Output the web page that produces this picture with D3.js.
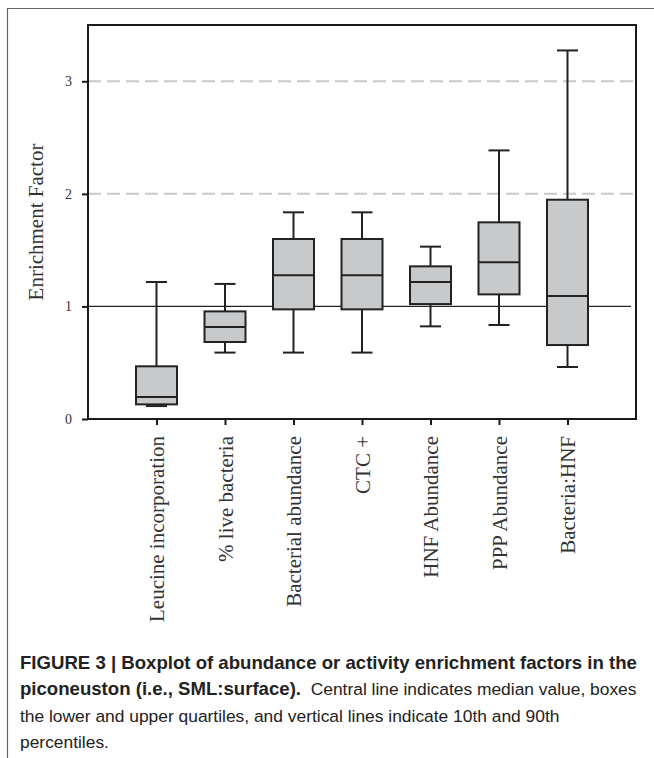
<!DOCTYPE html>
<html>
<head>
<meta charset="utf-8">
<script src="https://cdn.jsdelivr.net/npm/d3@7"></script>
<style>
  body { margin: 0; background: #fff; }
</style>
</head>
<body>
<div id="chart"></div>
<script>
const categories = ["Leucine incorporation", "% live bacteria", "Bacterial abundance", "CTC +",
    "HNF Abundance", "PPP Abundance", "Bacteria:HNF"];
const whiskerLow = [0.115, 0.59, 0.59, 0.59, 0.823, 0.835, 0.462];
const q1 = [0.13, 0.684, 0.974, 0.974, 1.021, 1.107, 0.657];
const median = [0.195, 0.817, 1.276, 1.276, 1.217, 1.392, 1.092];
const q3 = [0.468, 0.956, 1.599, 1.599, 1.356, 1.747, 1.948];
const whiskerHigh = [1.217, 1.20, 1.836, 1.836, 1.531, 2.386, 3.274];
const yTicks = [0, 1, 2, 3];
const dashedLevels = [2, 3];

const width = 654;
const height = 758;
const margin = {top: 25, right: 18, bottom: 339, left: 88};

const svg = d3.select('#chart')
    .append('svg')
    .attr('width', width)
    .attr('height', height)

// outer figure frame (open on the right)
svg.append('path')
    .attr('d', 'M7.5,' + height + 'V8.5H' + width)
    .attr('fill', 'none')
    .attr('stroke', '#666')
    .attr('stroke-width', 1.2)

const x = d3.scalePoint()
    .domain(categories)
    .range([margin.left, width - margin.right])
    .padding(1)

const y = d3.scaleLinear()
    .domain([0, 3.5])
    .range([height - margin.bottom, margin.top])

const serif = '"Liberation Serif", "Times New Roman", serif';

// dashed reference lines
svg.selectAll('.dash')
    .data(dashedLevels)
    .enter()
    .append('line')
    .attr('x1', margin.left)
    .attr('x2', width - margin.right)
    .attr('y1', d => y(d))
    .attr('y2', d => y(d))
    .attr('stroke', '#c8c8c8')
    .attr('stroke-width', 2)
    .attr('stroke-dasharray', '13,6')

svg.append('line')
    .attr('x1', margin.left)
    .attr('x2', width - margin.right - 5)
    .attr('y1', y(1))
    .attr('y2', y(1))
    .attr('stroke', '#222')
    .attr('stroke-width', 1.2)

// boxes
const boxW = 41;
const capW = 21;
const boxes = svg.selectAll('.box')
    .data(categories)
    .enter()
    .append('g')
    .attr('class', 'box')

boxes.append('line')
    .attr('x1', d => x(d))
    .attr('x2', d => x(d))
    .attr('y1', (d, i) => y(whiskerHigh[i]))
    .attr('y2', (d, i) => y(whiskerLow[i]))
    .attr('stroke', '#222')
    .attr('stroke-width', 2)

boxes.selectAll('.cap')
    .data((d, i) => [whiskerLow[i], whiskerHigh[i]].map(v => ({c: d, v: v})))
    .enter()
    .append('line')
    .attr('x1', d => x(d.c) - capW / 2)
    .attr('x2', d => x(d.c) + capW / 2)
    .attr('y1', d => y(d.v))
    .attr('y2', d => y(d.v))
    .attr('stroke', '#222')
    .attr('stroke-width', 2)

boxes.append('rect')
    .attr('x', d => x(d) - boxW / 2)
    .attr('width', boxW)
    .attr('y', (d, i) => y(q3[i]))
    .attr('height', (d, i) => y(q1[i]) - y(q3[i]))
    .attr('fill', '#c8c9cb')
    .attr('stroke', '#222')
    .attr('stroke-width', 2)

boxes.append('line')
    .attr('x1', d => x(d) - boxW / 2)
    .attr('x2', d => x(d) + boxW / 2)
    .attr('y1', (d, i) => y(median[i]))
    .attr('y2', (d, i) => y(median[i]))
    .attr('stroke', '#222')
    .attr('stroke-width', 2)

// plot frame
svg.append('rect')
    .attr('x', margin.left)
    .attr('y', margin.top)
    .attr('width', width - margin.left - margin.right)
    .attr('height', height - margin.top - margin.bottom)
    .attr('fill', 'none')
    .attr('stroke', '#1a1a1a')
    .attr('stroke-width', 2)

// axes
const yAxis = svg.append('g')
    .attr('transform', 'translate(' + margin.left + ',0)')
    .call(d3.axisLeft(y).tickValues(yTicks).tickSize(6).tickPadding(10).tickFormat(d3.format('d')))
yAxis.select('.domain').remove()
yAxis.selectAll('line').attr('stroke', '#1a1a1a').attr('stroke-width', 2)
yAxis.selectAll('text')
    .attr('font-family', serif)
    .attr('font-size', 14)
    .attr('fill', '#333')

const xAxis = svg.append('g')
    .attr('transform', 'translate(0,' + (height - margin.bottom) + ')')
    .call(d3.axisBottom(x).tickSize(6).tickPadding(0))
xAxis.select('.domain').remove()
xAxis.selectAll('line').attr('stroke', '#1a1a1a').attr('stroke-width', 2)
xAxis.selectAll('text')
    .attr('font-family', serif)
    .attr('font-size', 21)
    .attr('fill', '#333')
    .attr('transform', 'rotate(-90)')
    .attr('text-anchor', 'end')
    .attr('x', -17)
    .attr('y', 0)
    .attr('dy', '0.35em')

svg.append('text')
    .attr('transform', 'translate(43,' + ((margin.top + height - margin.bottom) / 2) + ') rotate(-90)')
    .attr('text-anchor', 'middle')
    .attr('font-family', serif)
    .attr('font-size', 21)
    .attr('fill', '#333')
    .text('Enrichment Factor')

// caption (bold runs a bit wider than the regular ones in the original)
const captionLines = [
    [{t: 'FIGURE 3 | Boxplot of abundance or activity enrichment factors in the', b: true}],
    [{t: 'piconeuston (i.e., SML:surface).', b: true}, {t: '  Central line indicates median value, boxes', b: false}],
    [{t: 'the lower and upper quartiles, and vertical lines indicate 10th and 90th', b: false}],
    [{t: 'percentiles.', b: false}]
];
const cap = svg.append('g')
captionLines.forEach((line, i) => {
    const t = cap.append('text')
        .attr('x', 20)
        .attr('y', 669 + i * 26.3)
        .attr('font-family', '"Liberation Sans", Arial, sans-serif')
        .attr('fill', '#222')
        .attr('xml:space', 'preserve')
    line.forEach(s => {
        t.append('tspan')
            .attr('font-weight', s.b ? 'bold' : 'normal')
            .attr('font-size', s.b ? 18.6 : 17.4)
            .text(s.t)
    })
})
</script>
</body>
</html>
